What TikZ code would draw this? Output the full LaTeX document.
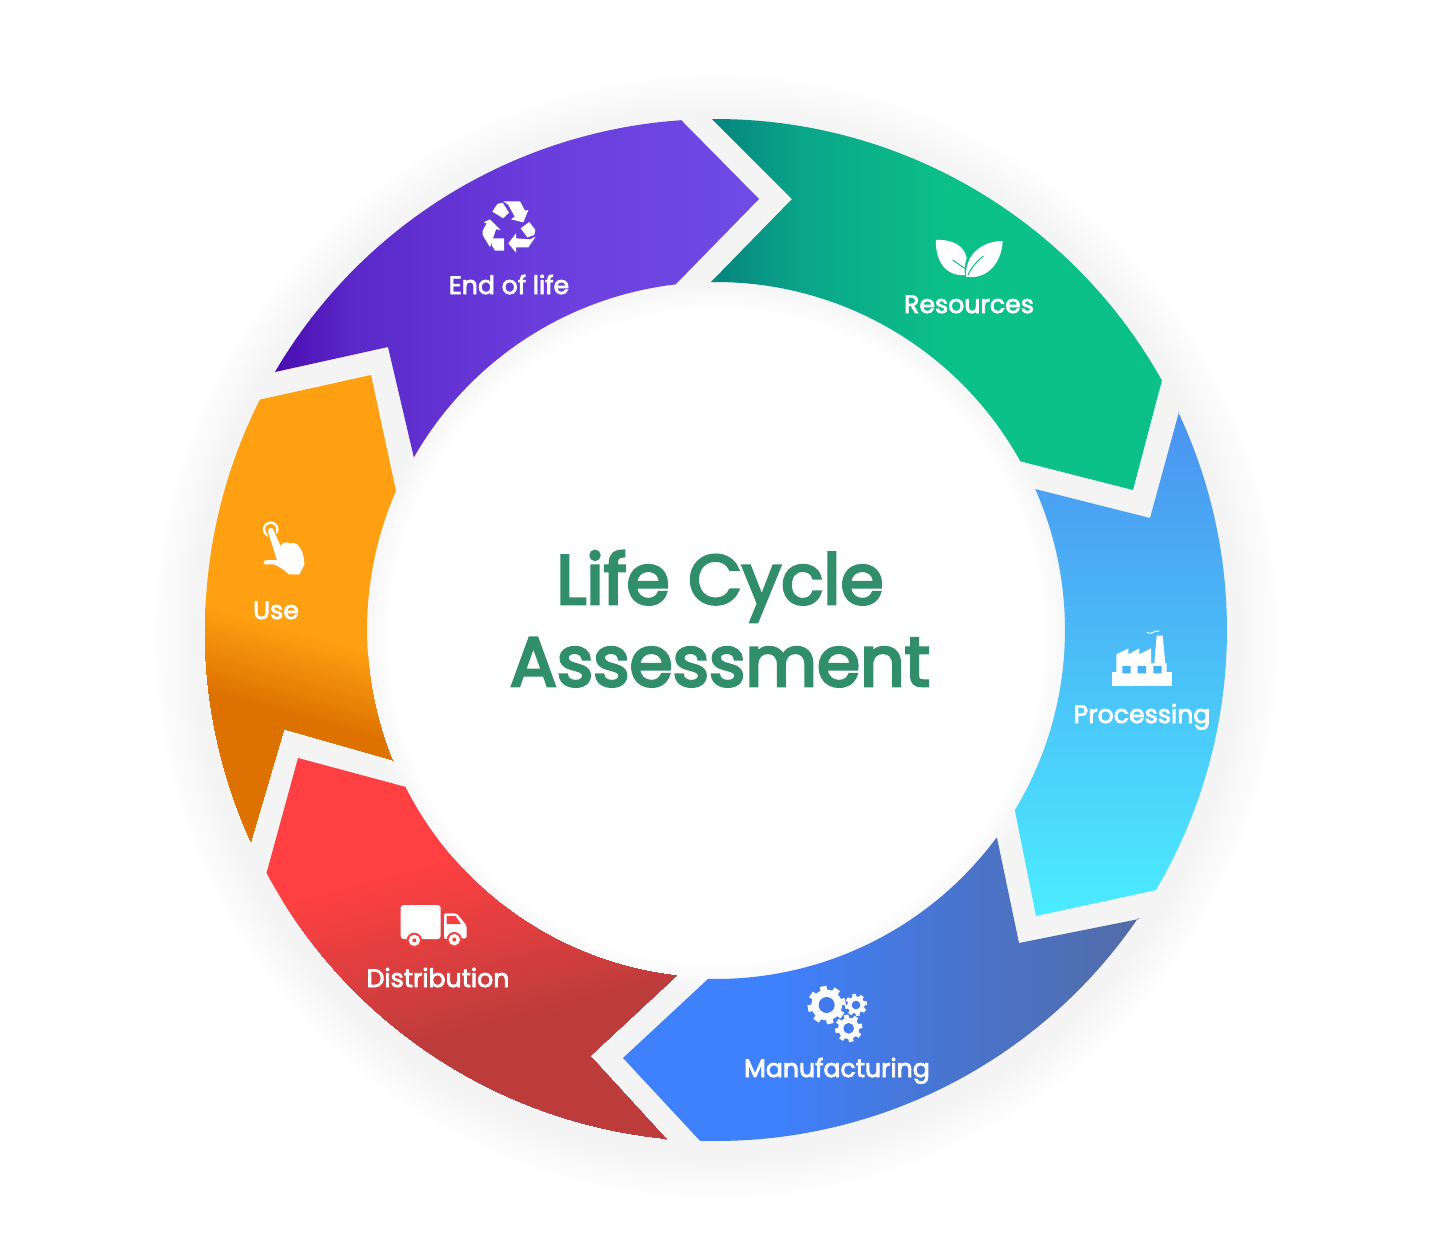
\documentclass[tikz,border=0pt]{standalone}
\usepackage{fontspec}
\newfontfamily\pop[FakeBold=3]{Poppins}
\newfontfamily\poptitle[FakeBold=4]{Poppins}
\definecolor{titlegreen}{HTML}{318E6B}
\definecolor{ifactory}{HTML}{46B3F7}
\definecolor{igear}{HTML}{4279EC}
\definecolor{itruck}{HTML}{F94041}
\definecolor{ileaf}{HTML}{0BC085}
\definecolor{ihand}{HTML}{FEA012}
\definecolor{life0}{HTML}{4A0CB0}\definecolor{life1}{HTML}{5B28C8}\definecolor{life2}{HTML}{6A3DDC}\definecolor{life3}{HTML}{6F4BE5}
\definecolor{res0}{HTML}{07837D}\definecolor{res1}{HTML}{0AA58A}\definecolor{res2}{HTML}{0BC187}
\definecolor{proc0}{HTML}{4B92F0}\definecolor{proc1}{HTML}{4BECFF}
\definecolor{man0}{HTML}{3F80FD}\definecolor{man1}{HTML}{4974CE}\definecolor{man2}{HTML}{526CA6}
\definecolor{dist0}{HTML}{FF4042}\definecolor{dist1}{HTML}{BC3C3C}
\definecolor{use0}{HTML}{FEA012}\definecolor{use1}{HTML}{DE7200}
% the central 50bp of a shading (25..75) fills the bounding box of the path
\pgfdeclareradialshading{glow}{\pgfpoint{0bp}{0bp}}{
 rgb(0bp)=(1,1,1); rgb(13.8bp)=(1,1,1); rgb(15.2bp)=(.955,.955,.955); rgb(22bp)=(.955,.955,.955); rgb(24bp)=(1,1,1); rgb(50bp)=(1,1,1)}
\pgfdeclarehorizontalshading{gradlife}{100bp}{
 color(0bp)=(life0); color(25bp)=(life0); color(33bp)=(life1); color(52bp)=(life2); color(75bp)=(life3); color(100bp)=(life3)}
\pgfdeclarehorizontalshading{gradres}{100bp}{
 color(0bp)=(res0); color(25bp)=(res0); color(35bp)=(res1); color(52bp)=(res2); color(100bp)=(res2)}
\pgfdeclareverticalshading{gradproc}{100bp}{
 color(0bp)=(proc1); color(25bp)=(proc1); color(75bp)=(proc0); color(100bp)=(proc0)}
\pgfdeclarehorizontalshading{gradman}{100bp}{
 color(0bp)=(man0); color(40bp)=(man0); color(57bp)=(man1); color(75bp)=(man2); color(100bp)=(man2)}
\newcommand{\gearicon}[7]{% cx cy R r hole teeth width
 \fill[white] (#1,#2) circle[radius=#4];
 \foreach \gi in {1,...,#6}{
  \fill[white,shift={(#1,#2)},rotate=\gi*360/#6+11] (-#7,-#3) rectangle (#7,0);}
 \fill[igear] (#1,#2) circle[radius=#5];}
\tikzset{
 seglabel/.style={text=white,font=\pop\fontsize{12.6}{15}\selectfont,inner sep=0pt,anchor=base},
 titletext/.style={text=titlegreen,font=\poptitle\fontsize{34.8}{41}\selectfont,inner sep=0pt,anchor=base},
 icon/.style={fill=white},
 arcs/.style={samples=70}
}
\begin{document}
\begin{tikzpicture}[x=0.5pt,y=-0.5pt]
\useasboundingbox (0,0) rectangle (1448,1243);
\fill[white] (0,0) rectangle (1448,1243);
\shade[shading=glow] (716,636) circle[radius=590];
% segments
\shade[shading=gradres] (712,119) -- (792,199) -- (711,282) -- plot[arcs,domain=-90.8:-29] ({716+348*cos(\x)},{630+348*sin(\x)}) -- (1133,490) -- (1162,380) -- plot[arcs,domain=-29.3:-90.4] ({716+511*cos(\x)},{630+511*sin(\x)}) -- cycle;
\shade[shading=gradproc] (1035,489) -- (1150,518) -- (1179,412) -- plot[arcs,domain=-25.2:30.6] ({716+511*cos(\x)},{630+511*sin(\x)}) -- (1036,916) -- (1015,811) -- plot[arcs,domain=31.2:-23.8] ({716+349*cos(\x)},{630+349*sin(\x)}) -- cycle;
\shade[shading=gradman] (997,838) -- (1019,943) -- (1139,919) -- plot[arcs,domain=34.3:91.8] ({716+511*cos(\x)},{630+511*sin(\x)}) -- (623,1058) -- (708,979) -- plot[arcs,domain=91.3:36.5] ({716+349*cos(\x)},{630+349*sin(\x)}) -- cycle;
% distribution: slanted gradient
\begin{scope}
\clip (676,976) -- (590,1056) -- (666,1139) -- plot[arcs,domain=95.6:151.6] ({716+511*cos(\x)},{630+511*sin(\x)}) -- (298,758) -- (406,787) -- plot[arcs,domain=153.1:96.6] ({716+348*cos(\x)},{630+348*sin(\x)}) -- cycle;
\fill[dist0] (250,740) rectangle (700,1150);
\foreach \k in {0,...,47}{
 \pgfmathsetmacro{\yy}{906+4*\k}
 \pgfmathsetmacro{\mm}{100-\k*100/47}
 \fill[dist0!\mm!dist1] (250,\yy) -- (700,\yy-117) -- (700,1300) -- (250,1300) -- cycle;}
\end{scope}
% use: slanted gradient
\begin{scope}
\clip (393,760) -- (284,729) -- (251,841) -- plot[arcs,domain=155.6:206.8] ({716+511*cos(\x)},{630+511*sin(\x)}) -- (371,375) -- (396,491) -- plot[arcs,domain=203.5:158.1] ({716+349*cos(\x)},{630+349*sin(\x)}) -- cycle;
\fill[use0] (190,360) rectangle (420,860);
\foreach \k in {0,...,34}{
 \pgfmathsetmacro{\yy}{600+2.5*\k}
 \pgfmathsetmacro{\mm}{100-\k*100/34}
 \fill[use0!\mm!use1] (190,\yy) -- (420,\yy+66) -- (420,900) -- (190,900) -- cycle;}
\end{scope}
\shade[shading=gradlife] (414,458) -- (388,347) -- (275,372) -- plot[arcs,domain=210.3:266.1] ({716+511*cos(\x)},{630+511*sin(\x)}) -- (759,199) -- (676,284) -- plot[arcs,domain=263.4:209.7] ({716+348*cos(\x)},{630+348*sin(\x)}) -- cycle;
% title
\node[titletext] (titleA) at (720,604) {Life Cycle};
\node[titletext] (titleB) at (720,686) {Assessment};
% labels
\node[seglabel] (lres) at (969,313) {Resources};
\node[seglabel] (lproc) at (1142,723) {Processing};
\node[seglabel] (lman) at (837,1077) {Manufacturing};
\node[seglabel] (ldist) at (438,987) {Distribution};
\node[seglabel] (luse) at (276,619) {Use};
\node[seglabel] (llife) at (509,294) {End of life};
% recycle icon
\begin{scope}[shift={(440,190)},scale=1/3]
\fill[icon] (157,65) -- (172,42) -- (188,38) -- (207,68) -- (190,85) -- cycle;
\fill[icon] (190,34) -- (240,34) -- (255,62) -- (265,60) -- (250,97) -- (213,88) -- (224,80) -- (212,58) -- (205,45) -- cycle;
\fill[icon] (242,115) -- (268,96) -- (286,120) -- (283,135) -- (262,142) -- cycle;
\fill[icon] (287,140) -- (265,172) -- (228,172) -- (228,188) -- (205,160) -- (228,130) -- (228,145) -- (270,148) -- cycle;
\fill[icon] (155,145) -- (192,145) -- (192,182) -- (165,182) -- (155,165) -- cycle;
\fill[icon] (150,88) -- (182,120) -- (168,118) -- (150,172) -- (128,135) -- (128,122) -- (140,100) -- (131,97) -- cycle;
\end{scope}
% leaves icon
\begin{scope}[shift={(900,225)},scale=1/3]
\fill[icon] (108,45) .. controls (160,42) and (195,65) .. (200,100) .. controls (194,118) and (192,135) .. (195,150) .. controls (140,155) and (105,110) .. (108,45) -- cycle;
\fill[icon] (308,48) .. controls (250,48) and (195,85) .. (198,155) .. controls (260,165) and (305,115) .. (308,48) -- cycle;
\draw[ileaf,line width=.5pt] (158,105) -- (194,130);
\draw[ileaf,line width=.5pt] (204,150) .. controls (215,125) and (232,108) .. (250,93);
\end{scope}
% factory icon
\begin{scope}[shift={(1070,620)},scale=1/3]
\fill[icon] (127,157) -- (305,157) -- (305,197) -- (127,197) -- cycle;
\fill[icon] (139,157) -- (139,103) -- (175,85) -- (175,103) -- (208,85) -- (208,103) -- (243,85) -- (243,130) -- (253,130) -- (260,47) -- (278,47) -- (286,130) -- (290,130) -- (290,157) -- cycle;
\fill[ifactory] (157,138) rectangle (182,160) (203,138) rectangle (228,160) (250,138) rectangle (275,160);
\draw[white,line width=.5pt] (230,37) .. controls (245,48) and (252,28) .. (268,33);
\end{scope}
% gears icon
\begin{scope}[shift={(790,975)},scale=1/3]
\gearicon{110}{90}{57}{46}{24}{8}{10}
\gearicon{198}{90}{33}{26}{13}{8}{6}
\gearicon{176}{160}{41}{32}{16}{8}{7}
\end{scope}
% truck icon
\begin{scope}[shift={(385,895)},scale=1/3]
\fill[icon,rounded corners=1.5pt] (47,30) rectangle (167,132);
\fill[icon,rounded corners=1pt] (177,55) -- (215,55) -- (245,92) -- (245,130) -- (177,132) -- cycle;
\fill[itruck] (185,63) -- (212,63) -- (228,87) -- (185,87) -- cycle;
\fill[itruck] (88,136) circle[radius=23] (208,134) circle[radius=23];
\fill[white] (88,136) circle[radius=17] (208,134) circle[radius=17];
\fill[itruck] (88,136) circle[radius=6] (208,134) circle[radius=6];
\end{scope}
% hand icon
\begin{scope}[shift={(240,510)},scale=1/3]
\draw[white,line width=1.2pt] (92,58) circle[radius=20];
\fill[icon,draw=ihand,line width=.6pt] (82,65) .. controls (80,50) and (100,45) .. (104,62) -- (122,103) .. controls (130,92) and (145,95) .. (150,98) .. controls (160,95) and (170,98) .. (175,103) .. controls (188,115) and (195,140) .. (195,165) -- (180,195) -- (145,195) .. controls (130,180) and (115,170) .. (100,165) -- (72,165) .. controls (64,155) and (72,148) .. (85,148) -- (108,148) -- cycle;
\end{scope}
\end{tikzpicture}
\end{document}
